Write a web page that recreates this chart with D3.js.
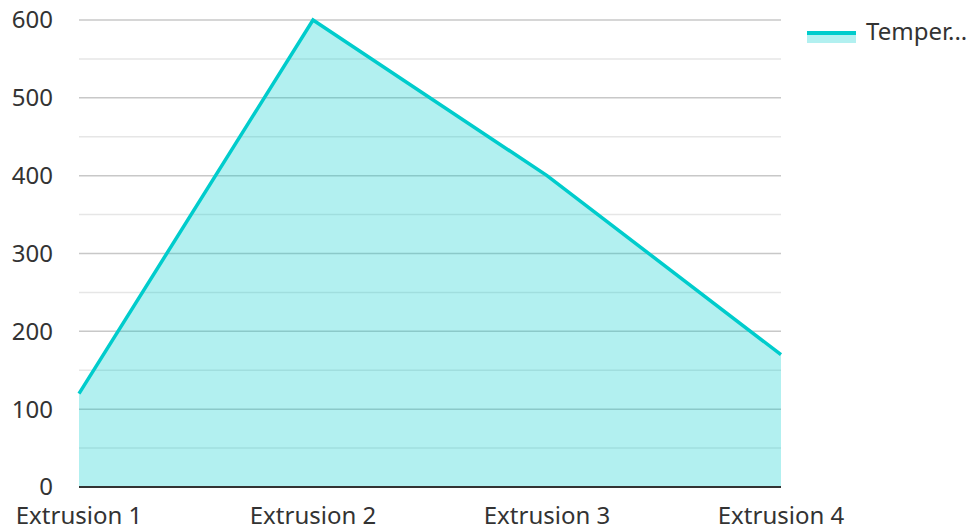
<!DOCTYPE html>
<html>
<head>
<meta charset="utf-8">
<script src="https://cdn.jsdelivr.net/npm/d3@7"></script>
<style>
  html, body { margin: 0; padding: 0; background: #fff; }
  svg { display: block; font-family: "Noto Sans", "Open Sans", sans-serif; }
</style>
</head>
<body>
<svg id="chart" width="971" height="526"></svg>
<script>
// Temperature per extrusion stage
const categories = ["Extrusion 1", "Extrusion 2", "Extrusion 3", "Extrusion 4"];
const temperature = [120, 600, 400, 170];
const seriesName = "Temperature";
const yTicks = [0, 100, 200, 300, 400, 500, 600];
const yMinorTicks = [50, 150, 250, 350, 450, 550];

const color = "#00cccc";
const svg = d3.select("#chart");
const margin = { left: 79, right: 190, top: 20, bottom: 39 };
const W = 971, H = 526;
const fontSize = 24;

const x = d3.scalePoint().domain(categories).range([margin.left, W - margin.right]).padding(0);
const y = d3.scaleLinear().domain([0, 600]).range([H - margin.bottom, margin.top]);

// Gridlines
svg.append("g").selectAll("line.minor").data(yMinorTicks).join("line")
  .attr("x1", margin.left).attr("x2", W - margin.right)
  .attr("y1", d => y(d)).attr("y2", d => y(d))
  .attr("stroke", "#e6e6e6").attr("stroke-width", 1.5);
svg.append("g").selectAll("line.major").data(yTicks.filter(d => d !== 0)).join("line")
  .attr("x1", margin.left).attr("x2", W - margin.right)
  .attr("y1", d => y(d)).attr("y2", d => y(d))
  .attr("stroke", "#c8c8c8").attr("stroke-width", 1.5);

const data = categories.map((c, i) => ({ c, v: temperature[i] }));

// Area and line
svg.append("path").datum(data)
  .attr("d", d3.area().x(d => x(d.c)).y0(y(0)).y1(d => y(d.v)))
  .attr("fill", color).attr("fill-opacity", 0.3);
svg.append("path").datum(data)
  .attr("d", d3.line().x(d => x(d.c)).y(d => y(d.v)))
  .attr("fill", "none").attr("stroke", color).attr("stroke-width", 3.5);

// Baseline
svg.append("line")
  .attr("x1", margin.left).attr("x2", W - margin.right)
  .attr("y1", y(0)).attr("y2", y(0))
  .attr("stroke", "#333").attr("stroke-width", 2);

// Y axis labels
svg.append("g").selectAll("text").data(yTicks).join("text")
  .attr("x", 53).attr("y", d => y(d)).attr("dy", "0.35em")
  .attr("text-anchor", "end").attr("font-size", fontSize).attr("fill", "#333")
  .text(d => d);

// X axis labels
svg.append("g").selectAll("text").data(categories).join("text")
  .attr("x", d => x(d)).attr("y", y(0) + 37)
  .attr("text-anchor", "middle").attr("font-size", fontSize).attr("fill", "#333")
  .text(d => d);

// Legend
const lg = svg.append("g").attr("transform", "translate(807,33)");
lg.append("rect").attr("x", 0).attr("y", 0).attr("width", 49).attr("height", 10)
  .attr("fill", color).attr("fill-opacity", 0.3);
lg.append("line").attr("x1", 0).attr("x2", 49).attr("y1", 0).attr("y2", 0)
  .attr("stroke", color).attr("stroke-width", 4);
lg.append("text").attr("x", 59).attr("y", 0).attr("dy", "0.3em")
  .attr("font-size", fontSize).attr("fill", "#333")
  .text(seriesName.slice(0, 6) + "...");
</script>
</body>
</html>
